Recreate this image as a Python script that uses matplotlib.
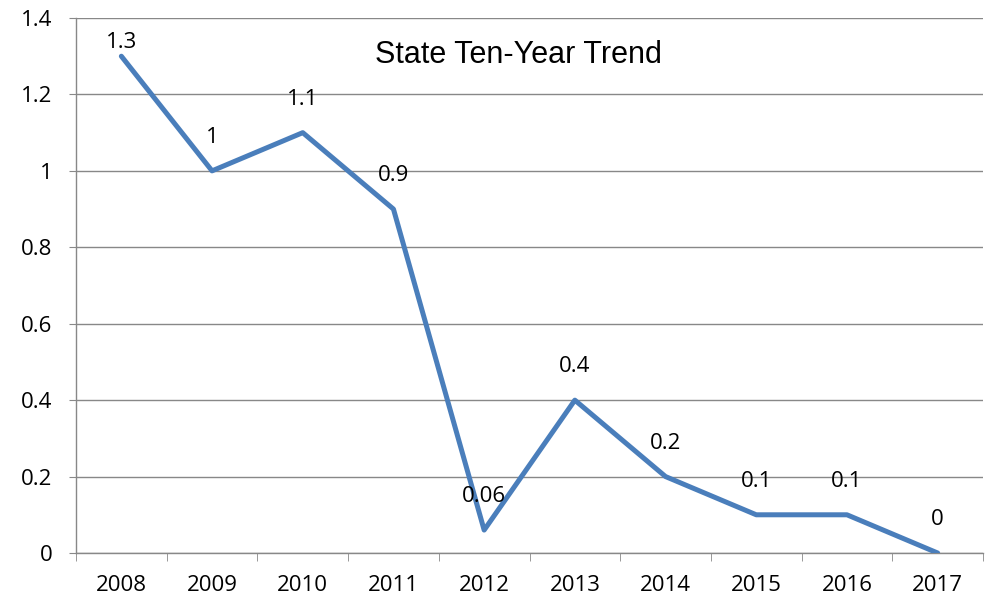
import matplotlib.pyplot as plt
import numpy as np

years = ['2008', '2009', '2010', '2011', '2012', '2013', '2014', '2015', '2016', '2017']
values = [1.3, 1.0, 1.1, 0.9, 0.06, 0.4, 0.2, 0.1, 0.1, 0.0]
labels = ['1.3', '1', '1.1', '0.9', '0.06', '0.4', '0.2', '0.1', '0.1', '0']

plt.rcParams['font.family'] = ['Open Sans', 'DejaVu Sans']

fig = plt.figure(figsize=(9.92, 6.02), dpi=100)
ax = fig.add_axes([76 / 992, 49 / 602, 907 / 992, 535 / 602])

x = np.arange(len(years))
ax.plot(x, values, color='#4a7ebb', linewidth=3.6, solid_capstyle='round', zorder=3)

ax.set_xlim(-0.5, len(years) - 0.5)
ax.set_ylim(0, 1.4)
ax.set_yticks(np.arange(0, 1.41, 0.2))
ax.set_yticklabels(['0', '0.2', '0.4', '0.6', '0.8', '1', '1.2', '1.4'])
ax.set_xticks(x)
ax.set_xticklabels(years)
ax.set_xticks(np.arange(-0.5, len(years)), minor=True)

gray = '#888888'
ax.yaxis.grid(True, color=gray, linewidth=1)
ax.set_axisbelow(True)
for s in ['top', 'right']:
    ax.spines[s].set_visible(False)
for s in ['left', 'bottom']:
    ax.spines[s].set_color(gray)
    ax.spines[s].set_linewidth(1)

ax.tick_params(axis='y', length=5, color=gray, labelsize=16, pad=12)
ax.tick_params(axis='x', which='major', length=0, labelsize=16, pad=16)
ax.tick_params(axis='x', which='minor', length=6, color=gray)

# data labels above each point, kept inside the plot
for xi, v, lab in zip(x, values, labels):
    ly = min(v + 0.087, 1.337)
    ax.text(xi, ly, lab, ha='center', va='center', fontsize=16)

fig.text(518 / 992, 1 - 55 / 602, 'State Ten-Year Trend', ha='center', va='center',
         fontsize=22, family='Liberation Sans')

fig.savefig('out.png', dpi=100)
